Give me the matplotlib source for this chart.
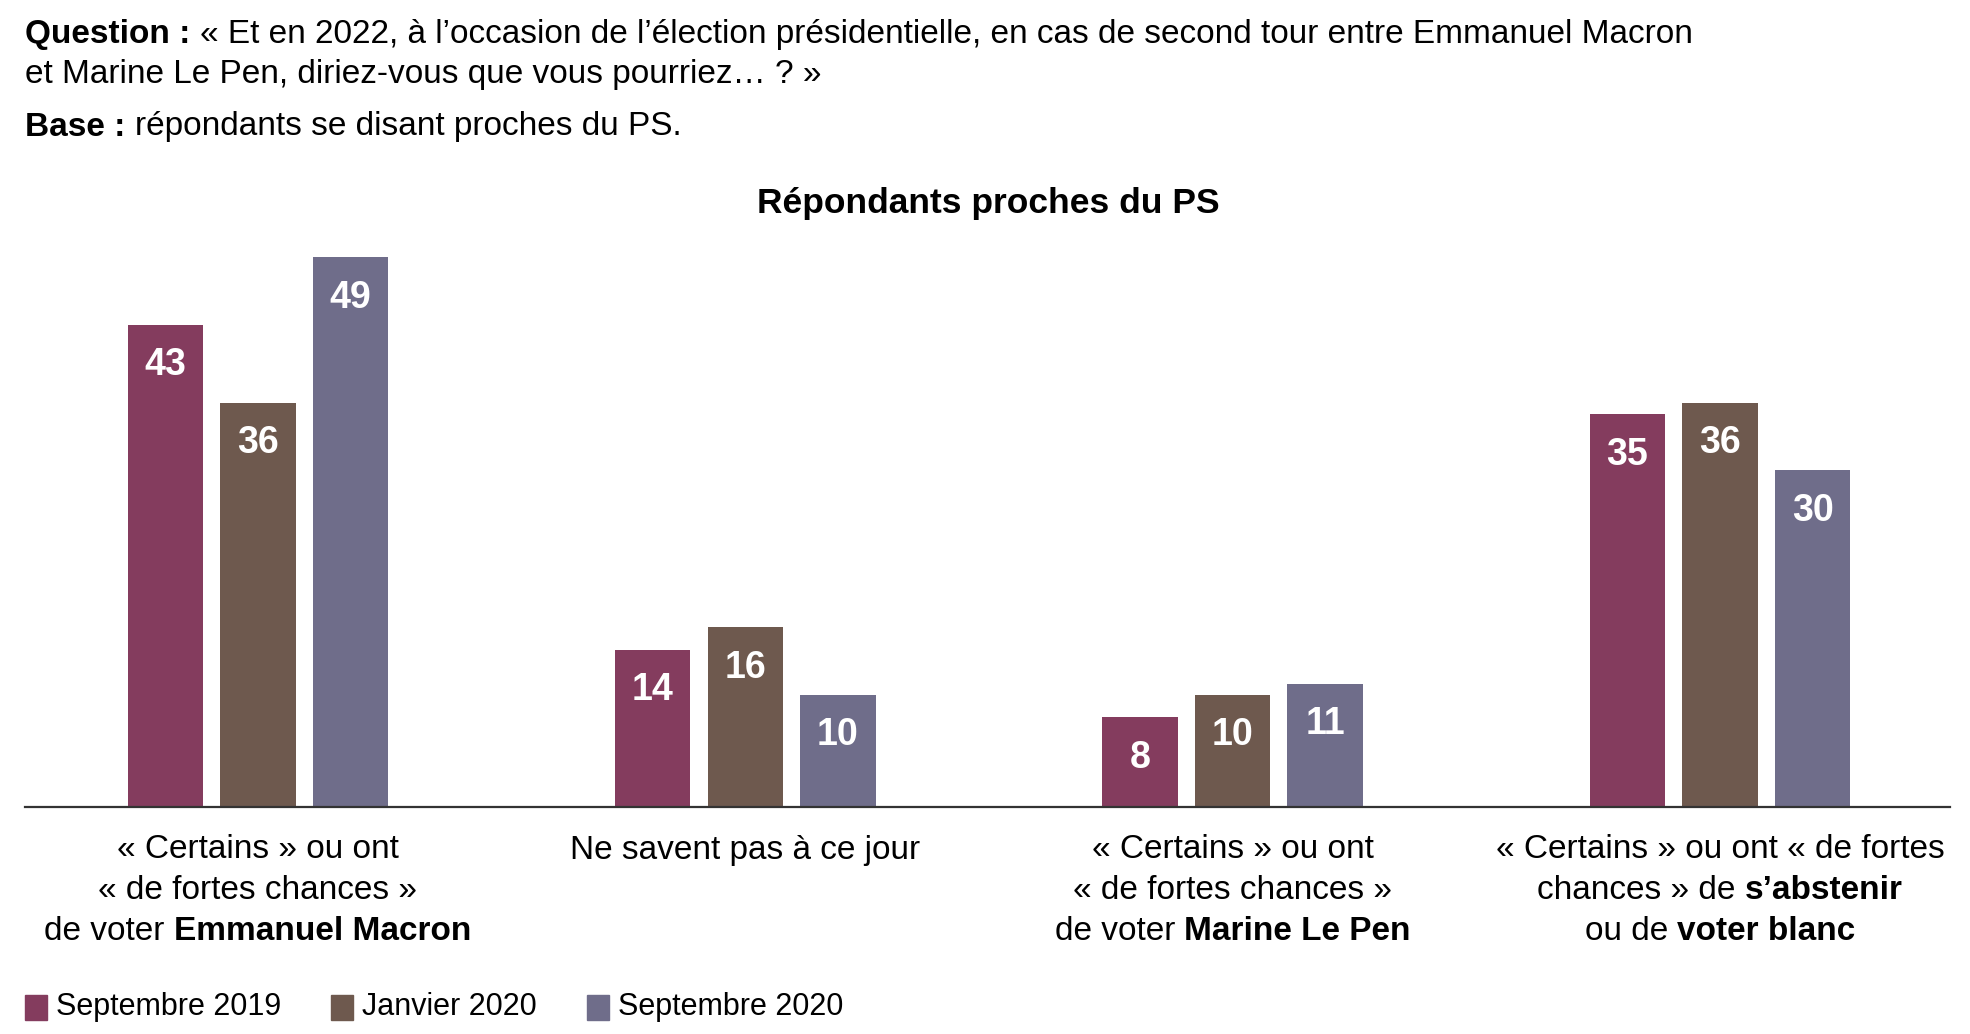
import matplotlib
matplotlib.use("Agg")
import matplotlib.pyplot as plt
from matplotlib import font_manager as fm
import numpy as np

# ---- data ----
cat_lines = [
    [("« Certains » ou ont", ""), ("« de fortes chances »", ""), ("de voter ", "Emmanuel Macron")],
    [("Ne savent pas à ce jour", "")],
    [("« Certains » ou ont", ""), ("« de fortes chances »", ""), ("de voter ", "Marine Le Pen")],
    [("« Certains » ou ont « de fortes", ""), ("chances » de ", "s’abstenir"), ("ou de ", "voter blanc")],
]
series_names = ["Septembre 2019", "Janvier 2020", "Septembre 2020"]
sep2019 = [43, 14, 8, 35]
jan2020 = [36, 16, 10, 36]
sep2020 = [49, 10, 11, 30]
colors = ["#843C5E", "#6E594E", "#6F6D8A"]

names = {f.name for f in fm.fontManager.ttflist}
FONT = "Liberation Sans Narrow" if "Liberation Sans Narrow" in names else "Liberation Sans"
plt.rcParams["font.family"] = [FONT, "DejaVu Sans"]

W, H = 1970, 1034
fig = plt.figure(figsize=(W / 100, H / 100), dpi=100)

def fx(px):
    return px / W

def fy(py):
    return 1 - py / H

# axes geometry (pixels)
ymax = 52
ppu = 11.22
ax_left, ax_right = 25, 1950
base = 807
top = base - ymax * ppu
ax = fig.add_axes([fx(ax_left), fy(base), fx(ax_right - ax_left), (base - top) / H])
ax.set_xlim(-0.478, 3.472)
ax.set_ylim(0, ymax)
for s in ["top", "right", "left"]:
    ax.spines[s].set_visible(False)
ax.spines["bottom"].set_color("#333333")
ax.spines["bottom"].set_linewidth(1.6)
ax.set_xticks([])
ax.set_yticks([])

x = np.arange(len(sep2019))
step = 0.19
width = 0.155
for i, (vals, c) in enumerate(zip([sep2019, jan2020, sep2020], colors)):
    xs = x + (i - 1) * step
    ax.bar(xs, vals, width=width, color=c)
    for xi, v in zip(xs, vals):
        ax.text(xi, v - 3.6, str(v), ha="center", va="center", color="white",
                fontsize=27, fontweight="bold")

fs = 24
def mixed_line(xpx, ypx, parts, size=fs, ha="left"):
    renderer = fig.canvas.get_renderer()
    texts = []
    for t, b in parts:
        texts.append(fig.text(0, 0, t, fontsize=size, fontweight="bold" if b else "normal",
                              va="center", ha="left"))
    widths = [tx.get_window_extent(renderer).width for tx in texts]
    total = sum(widths)
    start = xpx - total / 2 if ha == "center" else xpx
    cur = start
    for tx, w in zip(texts, widths):
        tx.set_position((fx(cur), fy(ypx)))
        cur += w

fig.canvas.draw()
mixed_line(25, 35, [("Question : ", True),
                    ("« Et en 2022, à l’occasion de l’élection présidentielle, en cas de second tour entre Emmanuel Macron", False)])
mixed_line(25, 75, [("et Marine Le Pen, diriez-vous que vous pourriez… ? »", False)])
mixed_line(25, 127, [("Base : ", True), ("répondants se disant proches du PS.", False)])

fig.text(fx(988), fy(203), "Répondants proches du PS", ha="center", va="center",
         fontsize=25.5, fontweight="bold")

# category labels
gx = [258 + 487.3 * i for i in range(4)]
for g, lines in zip(gx, cat_lines):
    for j, (normal, bold) in enumerate(lines):
        parts = []
        if normal:
            parts.append((normal, False))
        if bold:
            parts.append((bold, True))
        mixed_line(g, 850 + j * 40.5, parts, ha="center")

# legend
leg_sq = [25, 331, 587]
for sx, name, c in zip(leg_sq, series_names, colors):
    fig.patches.append(plt.Rectangle((fx(sx), fy(1020)), fx(22), 25 / H,
                                     transform=fig.transFigure, color=c))
    fig.text(fx(sx + 31), fy(1007), name, fontsize=22, va="center", ha="left")

fig.savefig("out.png", dpi=100)
